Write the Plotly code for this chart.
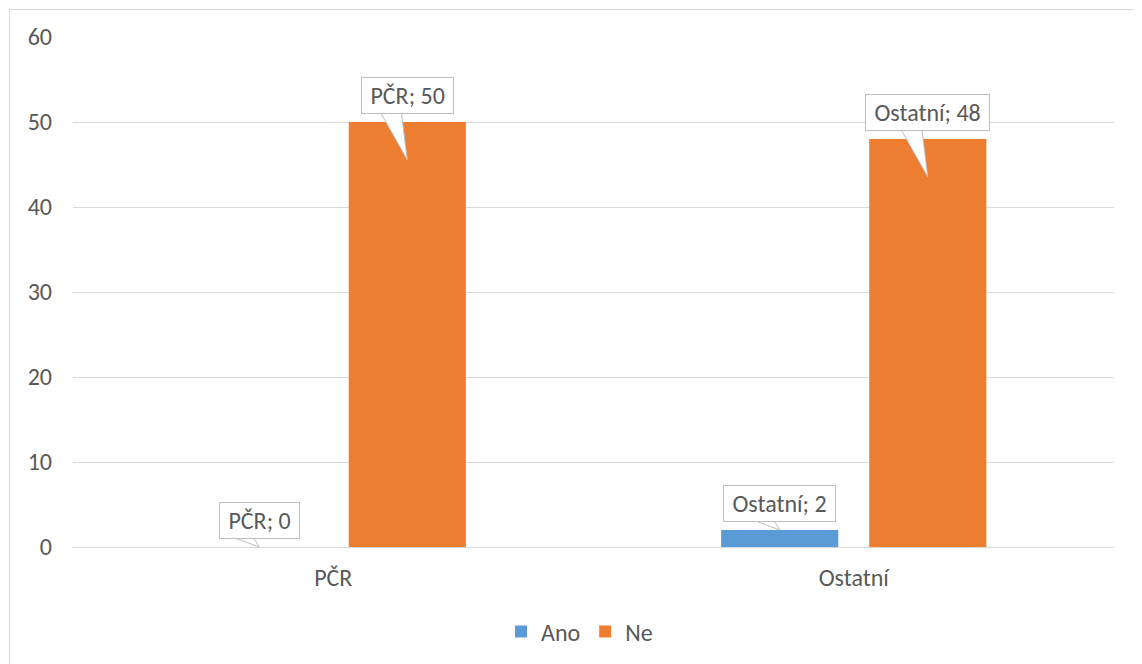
import plotly.graph_objects as go

categories = ["PČR", "Ostatní"]
series_names = ["Ano", "Ne"]
ano_values = [0, 2]
ne_values = [50, 48]
colors = ["#5B9BD5", "#ED7D31"]

# layout constants (pixels); the page body adds an 8px offset
OFF = 8
W, H = 1142, 664
PLOT_L, PLOT_R, PLOT_T, PLOT_B = 73, 1114, 37, 547   # page coords of plot area
ML = PLOT_L - OFF
MT = PLOT_T - OFF
PW = PLOT_R - PLOT_L
PH = PLOT_B - PLOT_T
MR = W - ML - PW
MB = H - MT - PH
YMAX = 60
PX_PER_CAT = PW / 2.0
PX_PER_UNIT = PH / YMAX

BARGAP = 0.431
BARGROUPGAP = 0.209
slot = (1 - BARGAP) / 2.0
offsets = [-slot / 2.0, slot / 2.0]

FONT = "Carlito, Calibri, Lato, sans-serif"
FS = 24
TXT = "#595959"
NB = "\u00a0"

fig = go.Figure()
for name, vals, col in zip(series_names, [ano_values, ne_values], colors):
    fig.add_trace(go.Bar(name=name, x=categories, y=vals, marker_color=col,
                         marker_line_width=0))

shapes = []
annotations = []
# callouts
for si, (vals, tip_drop_px) in enumerate([(ano_values, 0), (ne_values, 38)]):
    for ci, (cat, v) in enumerate(zip(categories, vals)):
        xc = ci + offsets[si]
        tip_y = v - tip_drop_px / PX_PER_UNIT
        base_y = v + 10 / PX_PER_UNIT
        x1 = xc - 27 / PX_PER_CAT
        x2 = xc - 6 / PX_PER_CAT
        shapes.append(dict(type="path", xref="x", yref="y",
                           path=f"M {x1},{base_y} L {xc},{tip_y} L {x2},{base_y} Z",
                           fillcolor="white", line=dict(color="#BFBFBF", width=1),
                           layer="above"))
        annotations.append(dict(x=xc, y=v, xref="x", yref="y", showarrow=False,
                                text=f"{NB}{cat}; {v}{NB}", yanchor="bottom", yshift=8,
                                bgcolor="white", bordercolor="#BFBFBF", borderwidth=1,
                                borderpad=3, font=dict(family=FONT, size=FS, color=TXT)))

# chart border
BX0, BY0 = 9.5, 9.5
shapes.append(dict(type="rect", xref="paper", yref="paper",
                   x0=(BX0 - PLOT_L) / PW, x1=(W + 20 - PLOT_L) / PW,
                   y0=(PLOT_B - (H + 20)) / PH, y1=(PLOT_B - BY0) / PH,
                   line=dict(color="#D9D9D9", width=1), fillcolor="rgba(0,0,0,0)",
                   layer="below"))

fig.update_layout(
    width=W, height=H,
    margin=dict(l=ML, r=MR, t=MT, b=MB),
    paper_bgcolor="white", plot_bgcolor="white",
    barmode="group", bargap=BARGAP, bargroupgap=BARGROUPGAP,
    font=dict(family=FONT, size=FS, color=TXT),
    legend=dict(orientation="h", x=0.5 - 14 / PW, xanchor="center",
                y=(PLOT_B - 632) / PH, yanchor="middle", itemwidth=30,
                font=dict(family=FONT, size=FS, color=TXT)),
    shapes=shapes, annotations=annotations,
)
fig.update_yaxes(range=[0, YMAX], dtick=10, showgrid=True, gridcolor="#D9D9D9",
                 gridwidth=1, zeroline=True, zerolinecolor="#D9D9D9", zerolinewidth=1,
                 showline=False, ticks="", ticklabelstandoff=20,
                 tickfont=dict(family=FONT, size=FS, color=TXT))
fig.update_xaxes(range=[-0.5, 1.5], showgrid=False, showline=False, ticks="",
                 ticklabelstandoff=14, tickfont=dict(family=FONT, size=FS, color=TXT))

fig.write_html("out.html")
